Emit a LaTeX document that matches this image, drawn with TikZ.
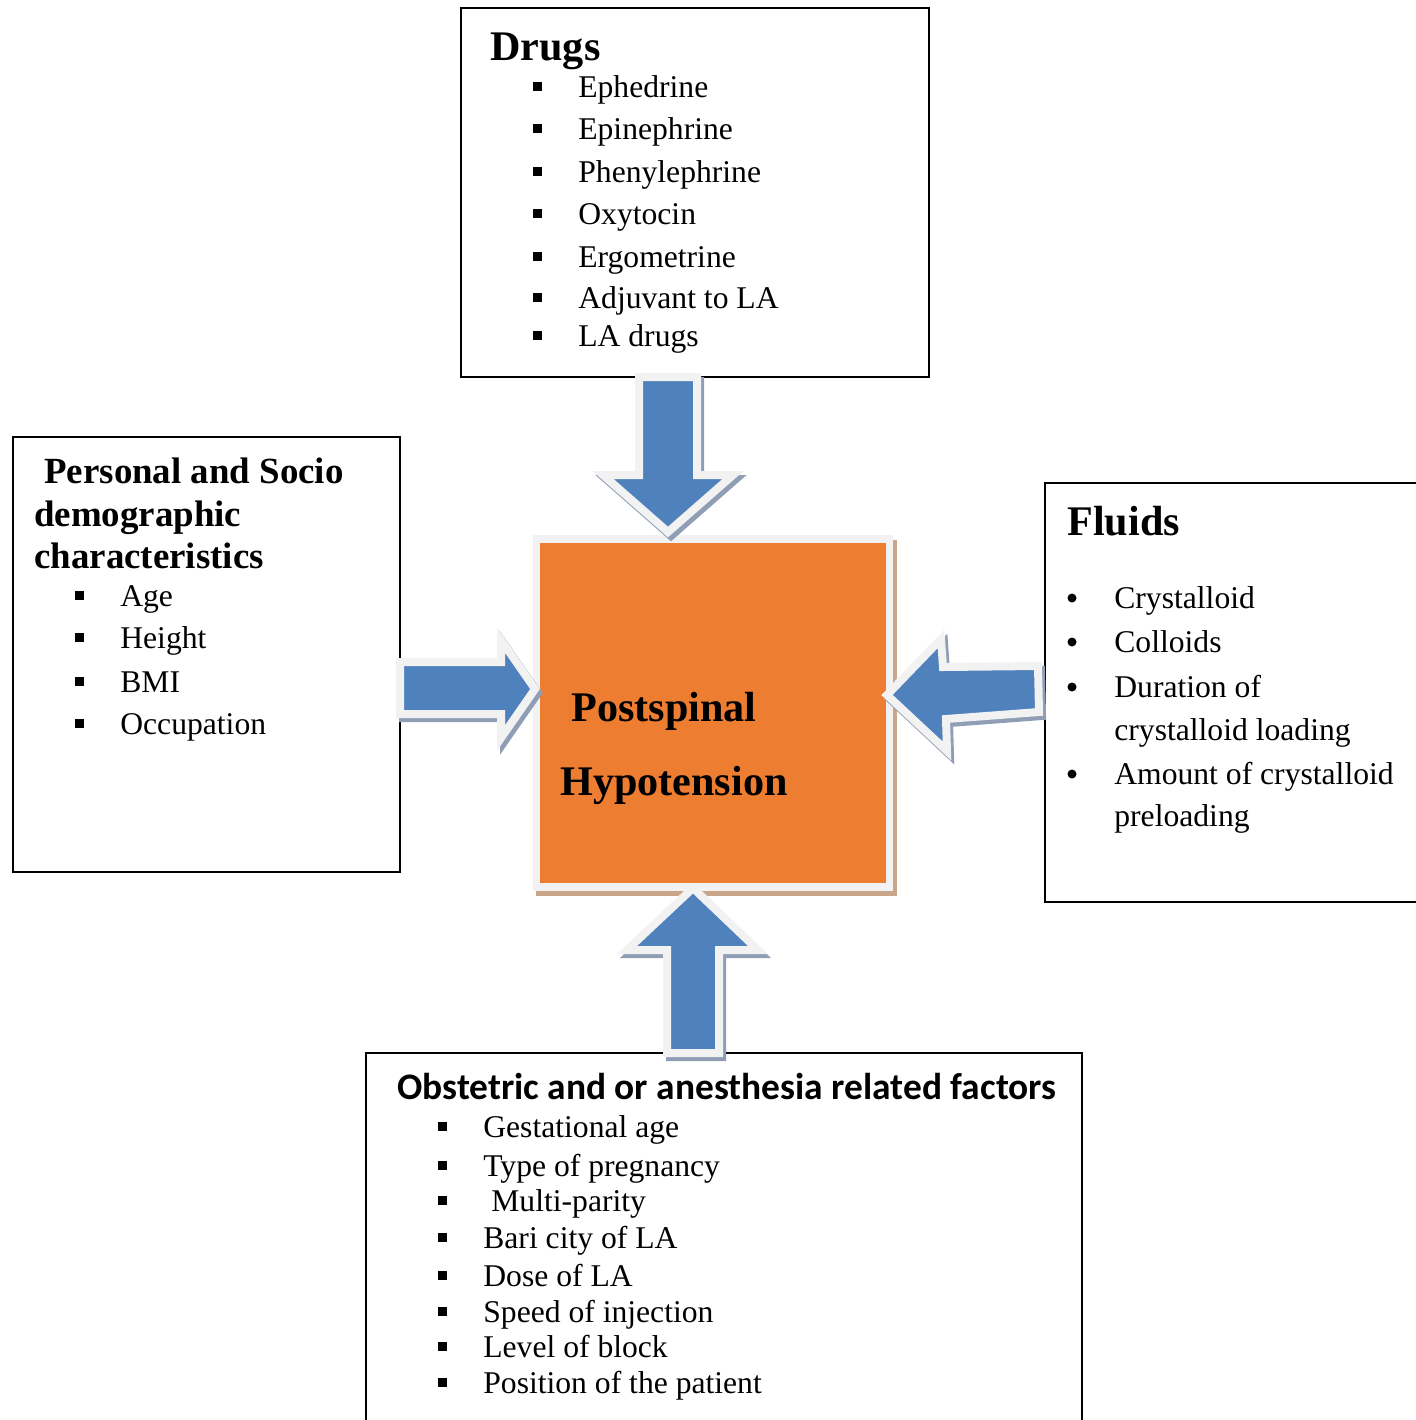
\documentclass[tikz,border=0pt]{standalone}
\usepackage{fontspec}
\setmainfont{Liberation Serif}
\newfontfamily\calibrifont{Carlito}
\definecolor{hypoorange}{HTML}{ED7D31}
\definecolor{arrowblue}{HTML}{4F81BD}
\definecolor{rimgray}{HTML}{F2F2F2}
\definecolor{arrowshade}{RGB}{143,158,181}
\definecolor{boxshade}{RGB}{201,165,138}

\tikzset{
  factorbox/.style={draw=black, line width=0.04cm},
  itemtext/.style={anchor=base west, inner sep=0pt, font=\fontsize{18}{21}\selectfont},
  bigtitle/.style={anchor=base west, inner sep=0pt, font=\fontsize{24}{28}\selectfont\bfseries},
  midtitle/.style={anchor=base west, inner sep=0pt, font=\fontsize{21}{25}\selectfont\bfseries},
  fatarrow/.style={fill=arrowblue, draw=rimgray, line width=0.16cm, line join=miter},
  fatshadow/.style={fill=arrowshade, draw=arrowshade, line width=0.16cm, line join=miter, shift={(3,4)}},
}

\begin{document}
\begin{tikzpicture}[x=0.02cm, y=-0.02cm]
  \useasboundingbox (0,0) rectangle (1416,1420);
  \clip (0,0) rectangle (1416,1420);

  %%%%% boxes %%%%%
  \draw[factorbox] (461,8) rectangle (929,377);
  \draw[factorbox] (13,437) rectangle (400,872);
  \draw[factorbox] (1045,483) rectangle (1440,902);
  \draw[factorbox] (366,1053) rectangle (1082,1440);

  %%%%% drugs %%%%%
  \node[bigtitle] (drugs) at (490,60) {Drugs};
  \foreach \t/\y [count=\i] in {Ephedrine/97, Epinephrine/139, Phenylephrine/182,
      Oxytocin/224, Ergometrine/267, Adjuvant to LA/308, LA drugs/346} {
    \fill (532.5,\y-15) rectangle ++(9,9);
    \node[itemtext] (drug\i) at (578,\y) {\t};
  }

  %%%%% personal %%%%%
  \node[midtitle] (pers1) at (44,483) {Personal and Socio};
  \node[midtitle] (pers2) at (34,526) {demographic};
  \node[midtitle] (pers3) at (34,568) {characteristics};
  \foreach \t/\y [count=\i] in {Age/606, Height/648, BMI/692, Occupation/734} {
    \fill (74.5,\y-15) rectangle ++(9,9);
    \node[itemtext] (pitem\i) at (120,\y) {\t};
  }

  %%%%% fluids %%%%%
  \node[bigtitle] (fluids) at (1067,535) {Fluids};
  \foreach \y in {608,652,697,784}
    \fill (1072,\y-10) circle (4.5);
  \foreach \t/\y [count=\i] in {Crystalloid/608, Colloids/652, Duration of/697,
      crystalloid loading/740, Amount of crystalloid/784, preloading/826}
    \node[itemtext] (fitem\i) at (1114,\y) {\t};

  %%%%% obstetric %%%%%
  \node[anchor=base west, inner sep=0pt, font=\calibrifont\fontsize{21.3}{25}\selectfont\bfseries]
    (obst) at (397,1099) {Obstetric and or anesthesia related factors};
  \foreach \t/\y [count=\i] in {Gestational age/1137, Type of pregnancy/1176,
      {\hspace{0.16cm}Multi-parity}/1211, Bari city of LA/1248, Dose of LA/1286,
      Speed of injection/1322, Level of block/1357, Position of the patient/1393} {
    \fill (437.5,\y-15) rectangle ++(9,9);
    \node[itemtext] (oitem\i) at (483,\y) {\t};
  }

  %%%%% centre %%%%%
  \fill[boxshade] (536,540) rectangle (897,896);
  \node[draw=rimgray, line width=0.15cm, fill=hypoorange, inner sep=0pt,
    minimum width=7.06cm, minimum height=6.96cm] (hypo) at (713,713) {};
  \node[bigtitle] (hypo1) at (571,721) {Postspinal};
  \node[bigtitle] (hypo2) at (560,795) {Hypotension};

  %%%%% arrows %%%%%
  \draw[fatshadow] (639,377) -- (697,377) -- (697,475) -- (733,475) -- (668,532) -- (603,475) -- (639,475) -- cycle;
  \draw[fatarrow] (639,377) -- (697,377) -- (697,475) -- (733,475) -- (668,532) -- (603,475) -- (639,475) -- cycle;

  \draw[fatshadow] (400,662) -- (501,662) -- (501,640) -- (535,689) -- (501,738) -- (501,714) -- (400,714) -- cycle;
  \draw[fatarrow] (400,662) -- (501,662) -- (501,640) -- (535,689) -- (501,738) -- (501,714) -- (400,714) -- cycle;

  \draw[fatshadow] (887,695) -- (941,639) -- (943,667) -- (1038,666) -- (1039,712) -- (946,719) -- (947,751) -- cycle;
  \draw[fatarrow] (887,695) -- (941,639) -- (943,667) -- (1038,666) -- (1039,712) -- (946,719) -- (947,751) -- cycle;

  \draw[fatshadow] (667,1053) -- (667,950) -- (627,950) -- (693,888) -- (758,950) -- (719,950) -- (719,1053) -- cycle;
  \draw[fatarrow] (667,1053) -- (667,950) -- (627,950) -- (693,888) -- (758,950) -- (719,950) -- (719,1053) -- cycle;
\end{tikzpicture}
\end{document}
